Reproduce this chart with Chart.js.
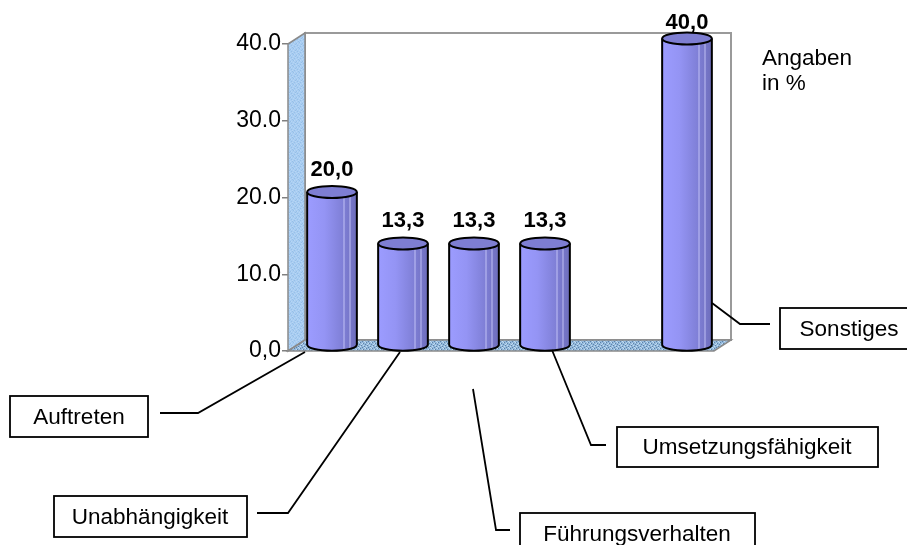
<!DOCTYPE html>
<html lang="de">
<head>
  <meta charset="UTF-8">
  <title>Angaben in %</title>
  <script src="https://cdn.jsdelivr.net/npm/chart.js"></script>
  <style>
    body { margin: 0; background: #fff; }
    canvas { display: block; }
  </style>
</head>
<body>
  <canvas id="chart" width="907" height="545"></canvas>

  <script>
    // Daten
    const categories = ['Auftreten', 'Unabhängigkeit', 'Führungsverhalten', 'Umsetzungsfähigkeit', '', 'Sonstiges'];
    const values = [20.0, 13.3, 13.3, 13.3, null, 40.0];
    const yTicks = [0, 10, 20, 30, 40];

    const FONT = "'Liberation Sans', Arial, sans-serif";
    const DEPTH = { x: 17, y: -11 };   // 3D-Tiefe der Wände

    // Beschriftungskästen (Position, Linienverlauf)
    const callouts = [
      { i: 0, box: [10, 396, 138, 41],  text: [79, 417],  line: [[160, 413], [198, 413], [305, 352]] },
      { i: 1, box: [54, 496, 193, 41],  text: [150, 517], line: [[257, 513], [288, 513], [400, 352]] },
      { i: 2, box: [520, 513, 235, 45], text: [637, 534], line: [[473, 389], [496, 530], [510, 530]] },
      { i: 3, box: [617, 427, 261, 40], text: [747, 447], line: [[552, 350], [591, 445], [606, 445]] },
      { i: 5, box: [780, 308, 140, 41], text: [849, 329], line: [[712, 303], [740, 324], [770, 324]] }
    ];

    // Muster für Wand und Boden
    function speckle(base, dark, light) {
      const c = document.createElement('canvas');
      c.width = 6; c.height = 6;
      const g = c.getContext('2d');
      g.fillStyle = base; g.fillRect(0, 0, 6, 6);
      g.fillStyle = dark;
      [[0,0],[3,1],[1,3],[4,4],[2,5],[5,2]].forEach(p => g.fillRect(p[0], p[1], 1, 1));
      g.fillStyle = light;
      [[2,1],[5,0],[0,4],[3,3],[4,5],[1,2]].forEach(p => g.fillRect(p[0], p[1], 1, 1));
      return c;
    }

    const wallsPlugin = {
      id: 'walls',
      beforeDatasetsDraw(chart) {
        const { ctx, chartArea: a } = chart;
        const dx = DEPTH.x, dy = DEPTH.y;
        ctx.save();
        // Rückwand
        ctx.strokeStyle = '#9a9a9a';
        ctx.lineWidth = 2;
        ctx.strokeRect(a.left + dx, a.top + dy, a.right - a.left, a.bottom - a.top);
        // linke Wand
        ctx.beginPath();
        ctx.moveTo(a.left, a.top);
        ctx.lineTo(a.left + dx, a.top + dy);
        ctx.lineTo(a.left + dx, a.bottom + dy);
        ctx.lineTo(a.left, a.bottom);
        ctx.closePath();
        ctx.fillStyle = ctx.createPattern(speckle('#a8cdf2', '#b8d6f4', '#98bfe6'), 'repeat');
        ctx.fill();
        ctx.strokeStyle = '#8a8a8a';
        ctx.lineWidth = 1.5;
        ctx.stroke();
        // Boden
        ctx.beginPath();
        ctx.moveTo(a.left, a.bottom);
        ctx.lineTo(a.left + dx, a.bottom + dy);
        ctx.lineTo(a.right + dx, a.bottom + dy);
        ctx.lineTo(a.right, a.bottom);
        ctx.closePath();
        ctx.fillStyle = ctx.createPattern(speckle('#93b9dc', '#5f82a8', '#c4dcf0'), 'repeat');
        ctx.fill();
        ctx.strokeStyle = '#8a8a8a';
        ctx.stroke();
        ctx.restore();
      }
    };

    const cylinderPlugin = {
      id: 'cylinders',
      afterDatasetsDraw(chart) {
        const ctx = chart.ctx;
        const meta = chart.getDatasetMeta(0);
        ctx.save();
        meta.data.forEach((bar, i) => {
          if (values[i] == null) return;
          const cx = bar.x + DEPTH.x / 2;
          const top = bar.y + DEPTH.y / 2;
          const bottom = bar.base + DEPTH.y / 2;
          const rx = bar.width / 2, ry = 6;

          const grad = ctx.createLinearGradient(cx - rx, 0, cx + rx, 0);
          grad.addColorStop(0, '#9c9cff');
          grad.addColorStop(0.35, '#9494f4');
          grad.addColorStop(0.7, '#8080d8');
          grad.addColorStop(1, '#6e6ebc');

          ctx.beginPath();
          ctx.moveTo(cx - rx, top);
          ctx.lineTo(cx - rx, bottom);
          ctx.ellipse(cx, bottom, rx, ry, 0, Math.PI, 0, true);
          ctx.lineTo(cx + rx, top);
          ctx.closePath();
          ctx.fillStyle = grad;
          ctx.fill();

          // Glanzlinien
          ctx.strokeStyle = 'rgba(210,210,255,0.8)';
          ctx.lineWidth = 1;
          [12, 18].forEach(o => {
            ctx.beginPath();
            ctx.moveTo(cx + o, top + 4);
            ctx.lineTo(cx + o, bottom + 4);
            ctx.stroke();
          });

          ctx.strokeStyle = '#000';
          ctx.lineWidth = 2;
          ctx.beginPath();
          ctx.moveTo(cx - rx, top);
          ctx.lineTo(cx - rx, bottom);
          ctx.ellipse(cx, bottom, rx, ry, 0, Math.PI, 0, true);
          ctx.lineTo(cx + rx, top);
          ctx.stroke();

          ctx.beginPath();
          ctx.ellipse(cx, top, rx, ry, 0, 0, Math.PI * 2);
          ctx.fillStyle = '#7e7ed2';
          ctx.fill();
          ctx.stroke();

          // Wertbeschriftung
          ctx.fillStyle = '#000';
          ctx.font = 'bold 22px ' + FONT;
          ctx.textAlign = 'center';
          ctx.textBaseline = 'middle';
          ctx.fillText(values[i].toFixed(1).replace('.', ','), cx, Math.max(top - 22, 23));
        });
        ctx.restore();
      }
    };

    const calloutPlugin = {
      id: 'callouts',
      afterDraw(chart) {
        const ctx = chart.ctx;
        ctx.save();
        ctx.font = '22.5px ' + FONT;
        ctx.textAlign = 'center';
        ctx.textBaseline = 'middle';
        callouts.forEach(c => {
          ctx.strokeStyle = '#000';
          ctx.lineWidth = 1.8;
          ctx.beginPath();
          c.line.forEach((p, k) => k ? ctx.lineTo(p[0], p[1]) : ctx.moveTo(p[0], p[1]));
          ctx.stroke();
          ctx.fillStyle = '#fff';
          ctx.fillRect(c.box[0], c.box[1], c.box[2], c.box[3]);
          ctx.strokeRect(c.box[0], c.box[1], c.box[2], c.box[3]);
          ctx.fillStyle = '#000';
          ctx.fillText(categories[c.i], c.text[0], c.text[1] + 1);
        });
        ctx.textAlign = 'left';
        ctx.textBaseline = 'alphabetic';
        ctx.fillText('Angaben', 762, 65);
        ctx.fillText('in %', 762, 90);
        ctx.restore();
      }
    };

    new Chart(document.getElementById('chart'), {
      type: 'bar',
      data: {
        labels: categories,
        datasets: [{
          data: values,
          backgroundColor: 'rgba(0,0,0,0)',
          borderWidth: 0,
          categoryPercentage: 0.7,
          barPercentage: 1
        }]
      },
      options: {
        responsive: false,
        animation: false,
        layout: { padding: { left: 0, top: 44, right: 193, bottom: 194 } },
        plugins: { legend: { display: false }, tooltip: { enabled: false } },
        scales: {
          x: { display: false },
          y: {
            min: 0,
            max: 40,
            afterFit: s => { s.width = 288; },
            afterBuildTicks: s => { s.ticks = yTicks.map(v => ({ value: v })); },
            border: { display: false },
            grid: { drawOnChartArea: false, tickLength: 6, color: '#808080', lineWidth: 1.5 },
            ticks: {
              color: '#000',
              padding: 1,
              font: { family: FONT, size: 23 },
              callback: v => v === 0 ? '0,0' : v.toFixed(1)
            }
          }
        }
      },
      plugins: [wallsPlugin, cylinderPlugin, calloutPlugin]
    });
  </script>
</body>
</html>
